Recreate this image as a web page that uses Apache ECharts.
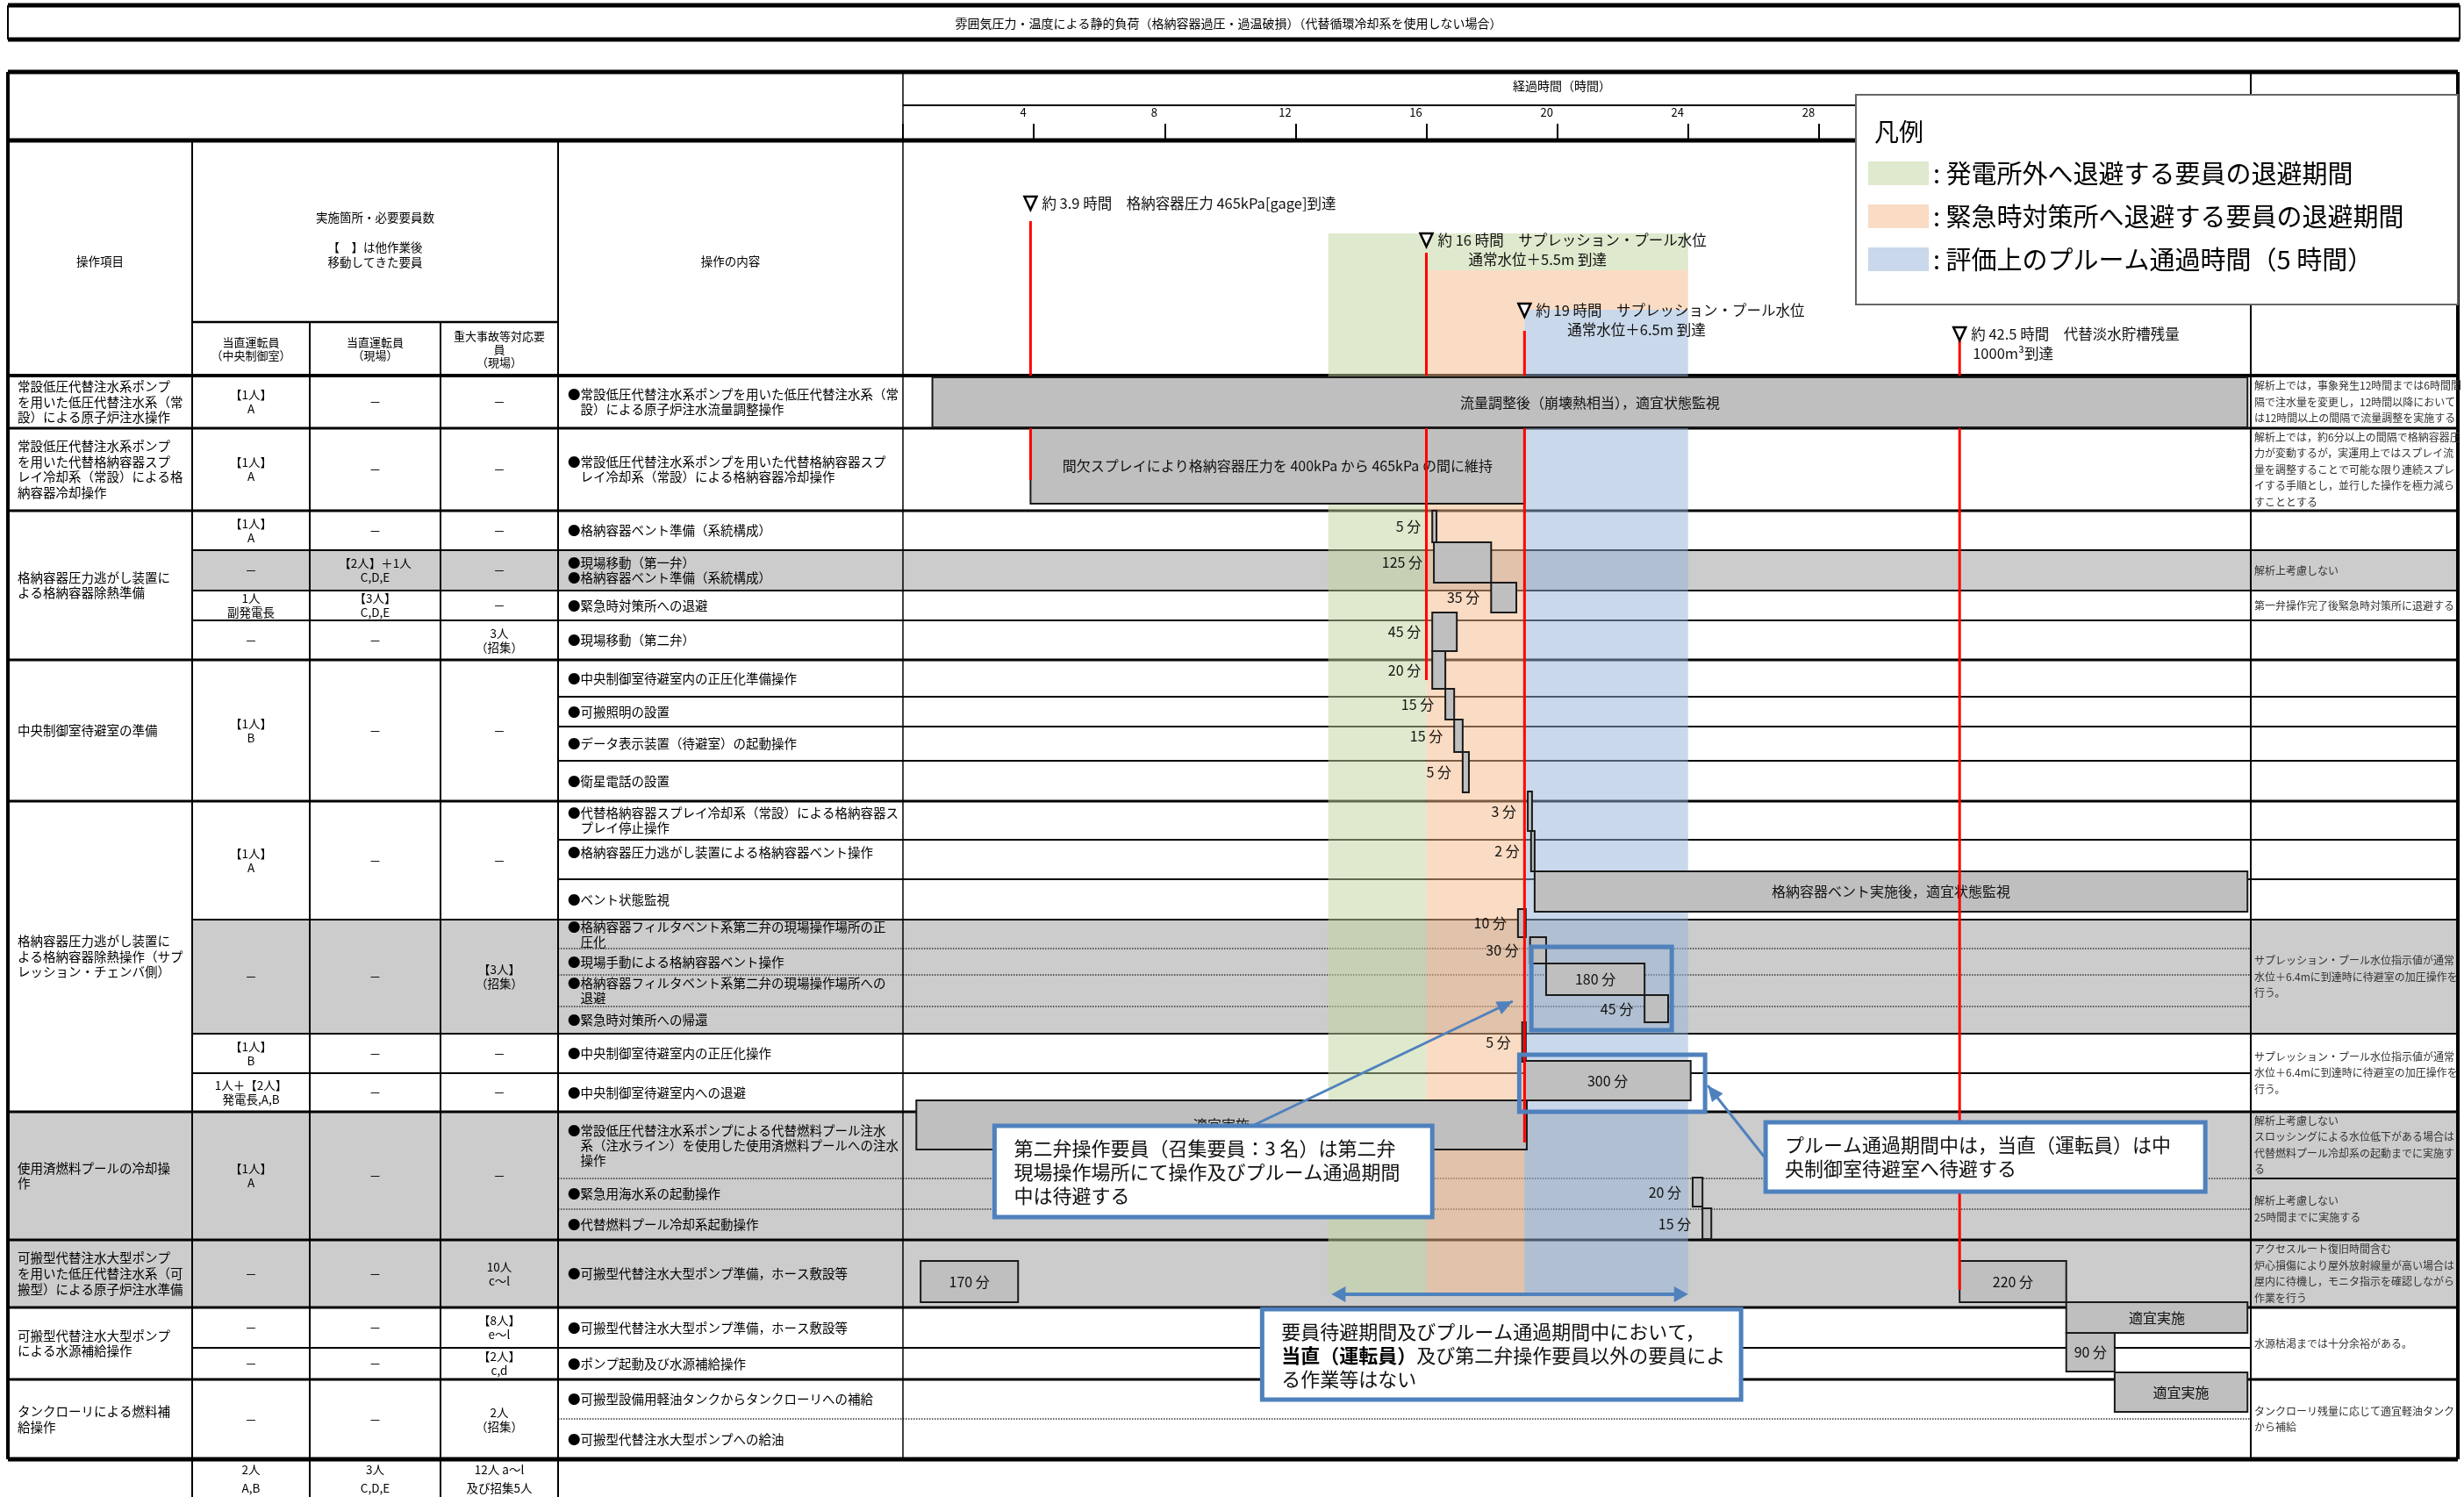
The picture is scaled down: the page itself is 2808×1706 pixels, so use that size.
<!DOCTYPE html>
<html>
<head>
<meta charset="utf-8">
<script src="https://cdn.jsdelivr.net/npm/echarts@6/dist/echarts.min.js"></script>
<style>
html,body{margin:0;padding:0;background:#ffffff;}
#chart{width:2808px;height:1706px;}
</style>
</head>
<body>
<div id="chart"></div>
<script>
// ======================= DATA =======================
const chartTitle = '雰囲気圧力・温度による静的負荷（格納容器過圧・過温破損）（代替循環冷却系を使用しない場合）';
const timeAxisTitle = '経過時間（時間）';
const tickLabels = [4, 8, 12, 16, 20, 24, 28];

const headerOperation = '操作項目';
const headerStaff = '実施箇所・必要要員数\n\n【　】は他作業後\n移動してきた要員';
const headerStaffCols = ['当直運転員\n（中央制御室）', '当直運転員\n（現場）', '重大事故等対応要\n員\n（現場）'];
const headerContent = '操作の内容';

const groupNames = [
  '常設低圧代替注水系ポンプ\nを用いた低圧代替注水系（常\n設）による原子炉注水操作',
  '常設低圧代替注水系ポンプ\nを用いた代替格納容器スプ\nレイ冷却系（常設）による格\n納容器冷却操作',
  '格納容器圧力逃がし装置に\nよる格納容器除熱準備',
  '中央制御室待避室の準備',
  '格納容器圧力逃がし装置に\nよる格納容器除熱操作（サプ\nレッション・チェンバ側）',
  '使用済燃料プールの冷却操\n作',
  '可搬型代替注水大型ポンプ\nを用いた低圧代替注水系（可\n搬型）による原子炉注水準備',
  '可搬型代替注水大型ポンプ\nによる水源補給操作',
  'タンクローリによる燃料補\n給操作'
];
const groupRows = [[0,0],[1,1],[2,5],[6,9],[10,18],[19,21],[22,22],[23,24],[25,26]];

const staffRows = [[0,0],[1,1],[2,2],[3,3],[4,4],[5,5],[6,9],[10,12],[13,16],[17,17],[18,18],[19,21],[22,22],[23,23],[24,24],[25,26]];
const staffCtrlRoom = ['【1人】\nA','【1人】\nA','【1人】\nA','－','1人\n副発電長','－','【1人】\nB','【1人】\nA','－','【1人】\nB','1人＋【2人】\n発電長,A,B','【1人】\nA','－','－','－','－'];
const staffSiteOp = ['－','－','－','【2人】＋1人\nC,D,E','【3人】\nC,D,E','－','－','－','－','－','－','－','－','－','－','－'];
const staffSevereAcc = ['－','－','－','－','－','3人\n（招集）','－','－','【3人】\n（招集）','－','－','－','10人\nc～l','【8人】\ne～l','【2人】\nc,d','2人\n（招集）'];
const staffTotals = ['2人\nA,B', '3人\nC,D,E', '12人 a～l\n及び招集5人'];

const operations = [
  '●常設低圧代替注水系ポンプを用いた低圧代替注水系（常\n　設）による原子炉注水流量調整操作',
  '●常設低圧代替注水系ポンプを用いた代替格納容器スプ\n　レイ冷却系（常設）による格納容器冷却操作',
  '●格納容器ベント準備（系統構成）',
  '●現場移動（第一弁）\n●格納容器ベント準備（系統構成）',
  '●緊急時対策所への退避',
  '●現場移動（第二弁）',
  '●中央制御室待避室内の正圧化準備操作',
  '●可搬照明の設置',
  '●データ表示装置（待避室）の起動操作',
  '●衛星電話の設置',
  '●代替格納容器スプレイ冷却系（常設）による格納容器ス\n　プレイ停止操作',
  '●格納容器圧力逃がし装置による格納容器ベント操作\n ',
  '●ベント状態監視',
  '●格納容器フィルタベント系第二弁の現場操作場所の正\n　圧化',
  '●現場手動による格納容器ベント操作',
  '●格納容器フィルタベント系第二弁の現場操作場所への\n　退避',
  '●緊急時対策所への帰還',
  '●中央制御室待避室内の正圧化操作',
  '●中央制御室待避室内への退避',
  '●常設低圧代替注水系ポンプによる代替燃料プール注水\n　系（注水ライン）を使用した使用済燃料プールへの注水\n　操作',
  '●緊急用海水系の起動操作',
  '●代替燃料プール冷却系起動操作',
  '●可搬型代替注水大型ポンプ準備，ホース敷設等',
  '●可搬型代替注水大型ポンプ準備，ホース敷設等',
  '●ポンプ起動及び水源補給操作',
  '●可搬型設備用軽油タンクからタンクローリへの補給',
  '●可搬型代替注水大型ポンプへの給油'
];
const grayRows = [3, 13, 14, 15, 16, 19, 20, 21, 22];
const dottedEdges = [14, 15, 16, 20, 21, 26];

const noteRows = [[0,0],[1,1],[2,2],[3,3],[4,4],[5,5],[6,6],[7,7],[8,8],[9,9],[10,10],[11,11],[12,12],[13,16],[17,18],[19,19],[20,21],[22,22],[23,24],[25,26]];
const notes = [
  '解析上では，事象発生12時間までは6時間間\n隔で注水量を変更し，12時間以降において\nは12時間以上の間隔で流量調整を実施する',
  '解析上では，約6分以上の間隔で格納容器圧\n力が変動するが，実運用上ではスプレイ流\n量を調整することで可能な限り連続スプレ\nイする手順とし，並行した操作を極力減ら\nすこととする',
  '', '解析上考慮しない', '第一弁操作完了後緊急時対策所に退避する', '', '', '', '', '', '', '', '',
  'サプレッション・プール水位指示値が通常\n水位＋6.4mに到達時に待避室の加圧操作を\n行う。',
  'サプレッション・プール水位指示値が通常\n水位＋6.4mに到達時に待避室の加圧操作を\n行う。',
  '解析上考慮しない\nスロッシングによる水位低下がある場合は\n代替燃料プール冷却系の起動までに実施す\nる',
  '解析上考慮しない\n25時間までに実施する',
  'アクセスルート復旧時間含む\n炉心損傷により屋外放射線量が高い場合は\n屋内に待機し，モニタ指示を確認しながら\n作業を行う',
  '水源枯渇までは十分余裕がある。',
  'タンクローリ残量に応じて適宜軽油タンク\nから補給'
];

// legend / bands (hours)
const legendTitle = '凡例';
const legendNames = ['発電所外へ退避する要員の退避期間', '緊急時対策所へ退避する要員の退避期間', '評価上のプルーム通過時間（5 時間）'];
const bandStart = [13, 16, 19];
const bandEnd = [16, 19, 24];

// event markers (position on the drawn time axis, hours) and their labels
const markerHours = [3.9, 16, 19, 32.3];
const markerLabel1 = ['約 3.9 時間　格納容器圧力 465kPa[gage]到達', '約 16 時間　サプレッション・プール水位', '約 19 時間　サプレッション・プール水位', '約 42.5 時間　代替淡水貯槽残量'];
const markerLabel2 = ['', '通常水位＋5.5m 到達', '通常水位＋6.5m 到達', '1000m³到達'];

// gantt bars: row index, start hour, end hour, label
const barRow   = [0, 1, 2, 3, 4, 5, 6, 7, 8, 9, 10, 11, 12, 13, 14, 15, 16, 17, 18, 19, 20, 21, 22, 22, 23, 24, 25];
const barStart = [0.9, 3.9, 16.18, 16.23, 17.98, 16.18, 16.18, 16.58, 16.85, 17.11, 19.1, 19.2, 19.31, 18.8, 19.17, 19.66, 22.67, 18.93, 19.0, 0.41, 24.14, 24.44, 0.54, 32.3, 35.56, 35.56, 37.04];
const barEnd   = [41.1, 19.0, 16.31, 17.98, 18.75, 16.93, 16.58, 16.85, 17.11, 17.3, 19.23, 19.31, 41.1, 19.04, 19.66, 22.67, 23.39, 19.04, 24.08, 19.07, 24.44, 24.71, 3.52, 35.56, 41.1, 37.04, 41.1];
const barText  = ['流量調整後（崩壊熱相当），適宜状態監視', '間欠スプレイにより格納容器圧力を 400kPa から 465kPa の間に維持',
  '5 分', '125 分', '35 分', '45 分', '20 分', '15 分', '15 分', '5 分', '3 分', '2 分', '格納容器ベント実施後，適宜状態監視',
  '10 分', '30 分', '180 分', '45 分', '5 分', '300 分', '適宜実施', '20 分', '15 分', '170 分', '220 分', '適宜実施', '90 分', '適宜実施'];

const calloutTexts = [
  '第二弁操作要員（召集要員：3 名）は第二弁\n現場操作場所にて操作及びプルーム通過期間\n中は待避する',
  'プルーム通過期間中は，当直（運転員）は中\n央制御室待避室へ待避する',
  '要員待避期間及びプルーム通過期間中において，\n{b|当直（運転員）}及び第二弁操作要員以外の要員によ\nる作業等はない'
];

// ======================= LAYOUT / STYLE =======================
const FONT = '"Noto Sans CJK JP","Noto Sans",sans-serif';
const BLUE = '#4F81BD';
const COLX = [9, 219, 353, 502, 636, 1029, 2565, 2801];
const TABLE_TOP = 428;
const GRID_TOP = 160, GRID_LEFT = 1029, GRID_W = 1536, GRID_H = 1503;
const X_MAX = 41.2;
const rowHeights = [60,94,45,46,34,45,42,34,39,46,44,45,46,33,30,36,31,45,44,76,35,35,77,46,36,45,46];
const rowTop = [TABLE_TOP];
rowHeights.forEach((h, i) => rowTop.push(rowTop[i] + h));

const bandTopPx = [266, 308, 353], bandBottomPx = 1475;
const bandFill = ['rgba(191,211,155,0.5)', 'rgba(245,183,135,0.5)', 'rgba(147,177,213,0.5)'];
const legendSwatch = ['#DFE9CD', '#FADBC3', '#C9D8EA'];

const markerLabelY = [231, 273, 353, 380];
const markerLineTop = [252, 288, 377, 388];
const markerLineBottom = [547, 775, 1302, 1470];
const markerSubIndent = [0, 48, 49, 15];

const barInset = [[2,-1],[0,-8],[0,-9],[-9,-9],[-9,-9],[-9,-10],[-10,-9],[-9,-8],[-8,-10],[-10,-10],[-11,-10],[-10,-9],[-9,-9],[-12,-13],[-13,-13],[-13,-13],[-13,-13],[-13,-13],[-14,-13],[-13,-33],[-1,-3],[-1,-1],[24,-6],[24,-6],[-6,-17],[-17,-9],[-8,-8]];
const barLabelInside = [1,1,0,0,0,0,0,0,0,0,0,0,1,0,0,1,0,0,1,1,0,0,1,1,1,1,1];

const calloutBox = [[2.8, 16.18, 1283, 1387], [26.37, 39.81, 1279, 1358], [10.98, 25.62, 1492, 1595]];
const calloutArrow = [[10.68, 1283, 18.64, 1141], [26.32, 1318, 24.6, 1237]];
const doubleArrow = [13.1, 24.0, 1475];
const highlightBox = [[19.21, 23.5, 1079, 1174], [18.84, 24.52, 1202, 1267]];

const vLines = [[9,82,1663,4],[219,160,1706,2],[353,367,1706,2],[502,367,1706,2],[636,160,1706,2],[1029,82,1663,1.5],[2565,82,1663,2],[2801,82,1663,4]];
const hLines = [[9,2801,82,5],[1029,2565,120,2],[9,2565,160,5],[219,636,367,2.5]];

// ======================= HELPERS =======================
function pxY(api, px) { return api.coord([0, px - GRID_TOP])[1]; }
function hx(api, h) { return api.coord([h, 0])[0]; }
function T(x, y, text, size, align, lh, fill, extra) {
  const st = {text: text, x: x, y: y, fill: fill || '#000', fontSize: size, fontFamily: FONT,
    align: align || 'center', textAlign: align || 'center', verticalAlign: 'middle', textVerticalAlign: 'middle',
    lineHeight: lh || Math.round(size * 1.2)};
  if (extra) Object.assign(st, extra);
  return {type: 'text', style: st};
}
function L(x1, y1, x2, y2, w, color, dash) {
  const st = {stroke: color || '#000', lineWidth: w};
  if (dash) st.lineDash = dash;
  return {type: 'line', shape: {x1: x1, y1: y1, x2: x2, y2: y2}, style: st};
}
function arrowHead(x1, y1, x2, y2, len, w, color) {
  const a = Math.atan2(y2 - y1, x2 - x1);
  const bx = x2 - len * Math.cos(a), by = y2 - len * Math.sin(a);
  return {type: 'polygon', shape: {points: [[x2, y2], [bx + w * Math.sin(a), by - w * Math.cos(a)], [bx - w * Math.sin(a), by + w * Math.cos(a)]]}, style: {fill: color}};
}
function boundarySet(spans) { const s = new Set(); spans.forEach(sp => { s.add(sp[0]); s.add(sp[1] + 1); }); return s; }

// ======================= RENDERERS =======================
function renderRowBg(params, api) {
  const ch = [];
  grayRows.forEach(r => {
    const g = groupRows.find(s => r >= s[0] && r <= s[1]);
    let full = true;
    for (let k = g[0]; k <= g[1]; k++) if (grayRows.indexOf(k) < 0) full = false;
    const x0 = COLX[full ? 0 : 1];
    const y0 = pxY(api, rowTop[r]), y1 = pxY(api, rowTop[r + 1]);
    ch.push({type: 'rect', shape: {x: x0, y: y0, width: COLX[7] - x0, height: y1 - y0}, style: {fill: '#CCCCCC'}});
  });
  return {type: 'group', children: ch};
}

function renderLines(params, api) {
  const ch = [];
  const gB = boundarySet(groupRows), sB = boundarySet(staffRows), nB = boundarySet(noteRows);
  for (let b = 0; b < rowTop.length; b++) {
    const y = pxY(api, rowTop[b]);
    for (let c = 0; c < 7; c++) {
      const has = c === 0 ? gB.has(b) : (c <= 3 ? sB.has(b) : (c <= 5 ? true : nB.has(b)));
      if (!has) continue;
      let w = 2, dash = null, col = '#000';
      if (b === 0) w = 4;
      else if (b === rowTop.length - 1) w = 5;
      else if (gB.has(b)) w = 3;
      else if ((c === 4 || c === 5) && dottedEdges.indexOf(b) >= 0) { w = 1.3; dash = [1.5, 1.5]; col = '#333'; }
      ch.push(L(COLX[c], y, COLX[c + 1], y, w, col, dash));
    }
  }
  vLines.forEach(v => ch.push(L(v[0], pxY(api, v[1]), v[0], pxY(api, v[2]), v[3])));
  hLines.forEach(h => ch.push(L(h[0], pxY(api, h[2]), h[1], pxY(api, h[2]), h[3])));
  return {type: 'group', children: ch};
}

function makeBandRenderer(k) {
  return function (params, api) {
    const ch = [];
    const yTop = pxY(api, bandTopPx[k]);
    const yNext = pxY(api, k < 2 ? bandTopPx[k + 1] : bandBottomPx);
    const yBot = pxY(api, bandBottomPx);
    const xs = hx(api, bandStart[k]), xe = hx(api, bandEnd[2]), xk = hx(api, bandEnd[k]);
    ch.push({type: 'rect', shape: {x: xs, y: yTop, width: xe - xs, height: yNext - yTop}, style: {fill: bandFill[k]}});
    if (k < 2) ch.push({type: 'rect', shape: {x: xs, y: yNext, width: xk - xs, height: yBot - yNext}, style: {fill: bandFill[k]}});
    return {type: 'group', children: ch};
  };
}

function renderBars(params, api) {
  const i = params.dataIndex;
  const x0 = hx(api, api.value(0)), x1 = hx(api, api.value(1));
  const r = barRow[i];
  const y0 = pxY(api, rowTop[r] + barInset[i][0]), y1 = pxY(api, rowTop[r + 1] + barInset[i][1]);
  const ch = [{type: 'rect', shape: {x: x0, y: y0, width: x1 - x0, height: y1 - y0}, style: {fill: '#BFBFBF', stroke: '#1a1a1a', lineWidth: 2}}];
  if (barLabelInside[i]) ch.push(T((x0 + x1) / 2, (y0 + y1) / 2, barText[i], 16, 'center', 18, '#111'));
  else ch.push(T(x0 - 13, (y0 + y1) / 2, barText[i], 16, 'right', 18, '#111'));
  return {type: 'group', children: ch};
}

function renderMarkers(params, api) {
  const i = params.dataIndex;
  const x = hx(api, markerHours[i]);
  const ch = [];
  ch.push(L(x, pxY(api, markerLineTop[i]), x, pxY(api, rowTop[0]), 3, '#FF0000'));
  ch.push(L(x, pxY(api, rowTop[1]), x, pxY(api, markerLineBottom[i]), 3, '#FF0000'));
  const ty = pxY(api, markerLabelY[i]);
  ch.push({type: 'polygon', shape: {points: [[x - 7, ty - 7], [x + 7, ty - 7], [x, ty + 8]]}, style: {fill: '#fff', stroke: '#000', lineWidth: 2.5}});
  ch.push(T(x + 13, ty + 1, markerLabel1[i], 16.5, 'left', 20, '#111'));
  if (markerLabel2[i]) ch.push(T(x + 13 + markerSubIndent[i] - (markerSubIndent[i] ? 13 : 0), ty + 23, markerLabel2[i], 16.5, 'left', 20, '#111'));
  return {type: 'group', children: ch};
}

function renderTable(params, api) {
  const ch = [];
  const Yc = (a, b) => (pxY(api, rowTop[a]) + pxY(api, rowTop[b + 1])) / 2;
  groupRows.forEach((sp, i) => ch.push(T(COLX[0] + 11, Yc(sp[0], sp[1]), groupNames[i], 14.5, 'left', 17.7)));
  const staffCols = [staffCtrlRoom, staffSiteOp, staffSevereAcc];
  staffRows.forEach((sp, i) => {
    const y = Yc(sp[0], sp[1]);
    staffCols.forEach((arr, c) => ch.push(T((COLX[c + 1] + COLX[c + 2]) / 2, y, arr[i], 13.5, 'center', 16)));
  });
  operations.forEach((t, r) => ch.push(T(COLX[4] + 11, Yc(r, r), t, 14.5, 'left', 17)));
  noteRows.forEach((sp, i) => { if (notes[i]) ch.push(T(COLX[6] + 4, Yc(sp[0], sp[1]), notes[i], 12, 'left', 18.5, '#333')); });
  // header cells
  ch.push(T((COLX[0] + COLX[1]) / 2, pxY(api, 298), headerOperation, 13.5));
  ch.push(T((COLX[1] + COLX[4]) / 2, pxY(api, 273), headerStaff, 13.5, 'center', 17));
  ch.push(T((COLX[4] + COLX[5]) / 2, pxY(api, 298), headerContent, 13.5));
  headerStaffCols.forEach((t, c) => ch.push(T((COLX[c + 1] + COLX[c + 2]) / 2, pxY(api, 398), t, 13, 'center', 15)));
  staffTotals.forEach((t, c) => ch.push(T((COLX[c + 1] + COLX[c + 2]) / 2, pxY(api, 1685), t, 13.5, 'center', 21)));
  return {type: 'group', children: ch};
}

function renderCallouts(params, api) {
  const ch = [];
  highlightBox.forEach(b => {
    const x0 = hx(api, b[0]), x1 = hx(api, b[1]), y0 = pxY(api, b[2]), y1 = pxY(api, b[3]);
    ch.push({type: 'rect', shape: {x: x0, y: y0, width: x1 - x0, height: y1 - y0}, style: {fill: 'none', stroke: BLUE, lineWidth: 5}});
  });
  calloutArrow.forEach(a => {
    const x1 = hx(api, a[0]), y1 = pxY(api, a[1]), x2 = hx(api, a[2]), y2 = pxY(api, a[3]);
    ch.push(L(x1, y1, x2, y2, 3, BLUE));
    ch.push(arrowHead(x1, y1, x2, y2, 18, 8, BLUE));
  });
  const dx0 = hx(api, doubleArrow[0]), dx1 = hx(api, doubleArrow[1]), dy = pxY(api, doubleArrow[2]);
  ch.push(L(dx0 + 8, dy, dx1 - 8, dy, 4, BLUE));
  ch.push(arrowHead(dx1, dy, dx0, dy, 16, 9, BLUE));
  ch.push(arrowHead(dx0, dy, dx1, dy, 16, 9, BLUE));
  calloutBox.forEach((b, i) => {
    const x0 = hx(api, b[0]), x1 = hx(api, b[1]), y0 = pxY(api, b[2]), y1 = pxY(api, b[3]);
    ch.push({type: 'rect', shape: {x: x0, y: y0, width: x1 - x0, height: y1 - y0}, style: {fill: '#fff', stroke: BLUE, lineWidth: 5}});
    const st = {text: calloutTexts[i], x: x0 + 22, y: y0 + 12, fill: '#111', fontSize: 22, fontFamily: FONT,
      align: 'left', textAlign: 'left', verticalAlign: 'top', textVerticalAlign: 'top', lineHeight: 27,
      rich: {b: {fontSize: 22, fontFamily: FONT, fontWeight: 'bold', lineHeight: 27, fill: '#000'}}};
    ch.push({type: 'text', style: st});
  });
  return {type: 'group', children: ch};
}

// ======================= CHART =======================
const chart = echarts.init(document.getElementById('chart'), null, {renderer: 'canvas', width: 2808, height: 1706});

const bandSeries = legendNames.map((n, k) => ({
  name: n, type: 'custom', z: 3, silent: true, data: [[0, 0]],
  itemStyle: {color: legendSwatch[k]},
  renderItem: makeBandRenderer(k)
}));

const option = {
  animation: false,
  backgroundColor: '#ffffff',
  textStyle: {fontFamily: FONT},
  grid: {left: GRID_LEFT, top: GRID_TOP, width: GRID_W, height: GRID_H, containLabel: false, outerBoundsMode: 'none', show: false},
  xAxis: {
    type: 'value', min: 0, max: X_MAX, interval: 4, position: 'top', offset: 3,
    axisLine: {show: false}, splitLine: {show: false},
    axisTick: {show: true, length: 19, lineStyle: {color: '#000', width: 2}},
    axisLabel: {fontSize: 13, color: '#000', fontFamily: FONT, margin: 22, padding: [0, 24, 0, 0],
      formatter: v => (tickLabels.indexOf(v) >= 0 ? String(v) : '')}
  },
  yAxis: {type: 'value', min: 0, max: GRID_H, inverse: true, show: false},
  legend: {
    show: true, orient: 'vertical', left: 2129, top: 183, itemWidth: 69, itemHeight: 27, itemGap: 20,
    icon: 'rect', selectedMode: false, z: 10, padding: 0,
    textStyle: {fontSize: 29, fontFamily: FONT, color: '#000'},
    formatter: n => ': ' + n,
    data: legendNames.map((n, i) => ({name: n, itemStyle: {color: legendSwatch[i], opacity: 1, borderWidth: 0}}))
  },
  graphic: [
    {type: 'line', z: 1, shape: {x1: 9, y1: 6, x2: 2803, y2: 6}, style: {stroke: '#000', lineWidth: 5}},
    {type: 'line', z: 1, shape: {x1: 9, y1: 45, x2: 2803, y2: 45}, style: {stroke: '#000', lineWidth: 5}},
    {type: 'line', z: 1, shape: {x1: 9, y1: 6, x2: 9, y2: 45}, style: {stroke: '#000', lineWidth: 2}},
    {type: 'line', z: 1, shape: {x1: 2803, y1: 6, x2: 2803, y2: 45}, style: {stroke: '#000', lineWidth: 2}},
    {type: 'text', z: 1, style: {text: chartTitle, x: 1400, y: 27, fill: '#000', fontSize: 14, fontFamily: FONT, align: 'center', textAlign: 'center', verticalAlign: 'middle', textVerticalAlign: 'middle'}},
    {type: 'text', z: 1, style: {text: timeAxisTitle, x: 1780, y: 98, fill: '#000', fontSize: 14, fontFamily: FONT, align: 'center', textAlign: 'center', verticalAlign: 'middle', textVerticalAlign: 'middle'}},
    {type: 'rect', z: 9, shape: {x: 2115, y: 108, width: 686, height: 239}, style: {fill: '#fff', stroke: '#666', lineWidth: 2}},
    {type: 'text', z: 9, style: {text: legendTitle, x: 2136, y: 150, fill: '#000', fontSize: 28, fontFamily: FONT, align: 'left', textAlign: 'left', verticalAlign: 'middle', textVerticalAlign: 'middle'}}
  ],
  series: [
    {type: 'custom', name: 'rowBg', z: 1, silent: true, data: [[0, 0]], renderItem: renderRowBg},
    {type: 'custom', name: 'lines', z: 2, silent: true, data: [[0, 0]], renderItem: renderLines}
  ].concat(bandSeries).concat([
    {type: 'custom', name: 'bars', z: 4, silent: true, data: barRow.map((r, i) => [barStart[i], barEnd[i], r]), renderItem: renderBars},
    {type: 'custom', name: 'markers', z: 5, silent: true, data: markerHours.map((h, i) => [h, i]), renderItem: renderMarkers},
    {type: 'custom', name: 'table', z: 6, silent: true, data: [[0, 0]], renderItem: renderTable},
    {type: 'custom', name: 'callouts', z: 7, silent: true, data: [[0, 0]], renderItem: renderCallouts}
  ])
};
chart.setOption(option);
</script>
</body>
</html>
